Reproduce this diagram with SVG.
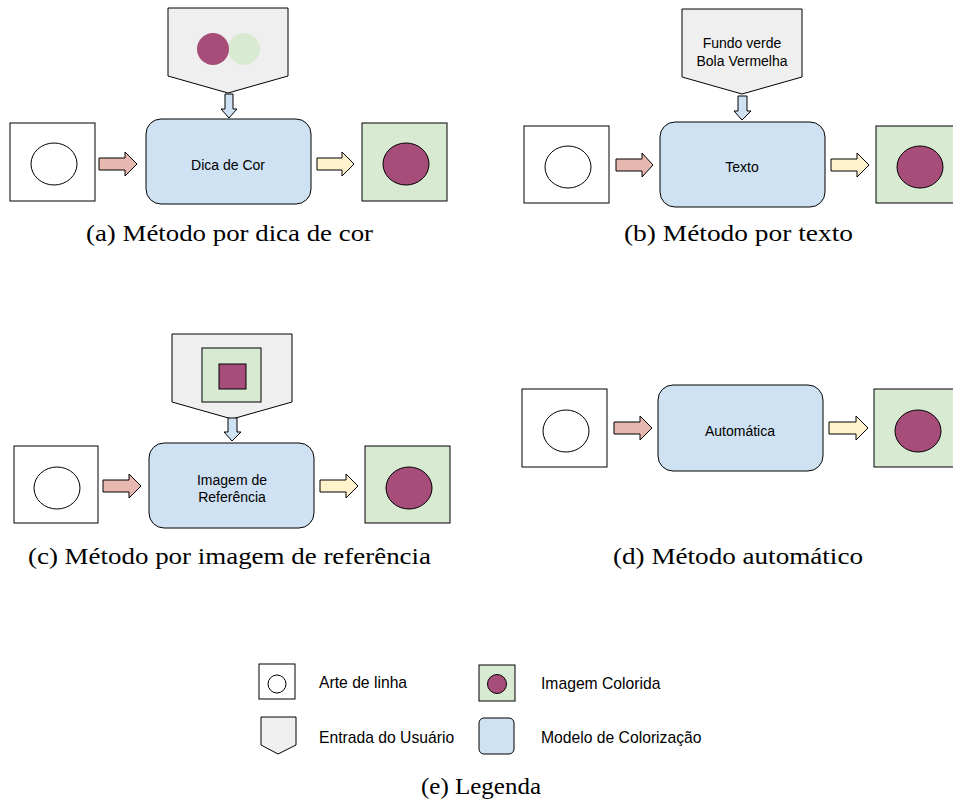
<svg xmlns="http://www.w3.org/2000/svg" width="953" height="804" viewBox="0 0 953 804">
<style>
.line{fill:#ffffff;stroke:#000;stroke-width:1}
.col{fill:#d9ead3;stroke:#000;stroke-width:1}
.dot{fill:#a64d79;stroke:#000;stroke-width:1}
.model{fill:#cfe2f3;stroke:#000;stroke-width:1}
.user{fill:#efefef;stroke:#000;stroke-width:1}
.ra{fill:#e6b8af;stroke:#000;stroke-width:1}
.ya{fill:#fff2cc;stroke:#000;stroke-width:1}
.da{fill:#cfe2f3;stroke:#000;stroke-width:1}
.lbl{font-family:"Liberation Sans",Arial,sans-serif;font-size:14px;fill:#000;text-anchor:middle}
.leg{font-family:"Liberation Sans",Arial,sans-serif;font-size:15.7px;fill:#000}
.cap{font-family:"Liberation Serif","Times New Roman",serif;font-size:24px;fill:#000}
</style>
<rect width="953" height="804" fill="#ffffff"/>

<!-- Panel (a) -->
<g id="a-input">
<polygon class="user" points="168,8 288,8 288,76 228,93 168,76"/>
<circle cx="244" cy="49" r="16" fill="#d9ead3"/>
<circle cx="213" cy="49" r="16" fill="#a64d79"/>
</g>
<g id="a-lineart"><rect class="line" x="10" y="123" width="85" height="78"/><ellipse class="line" cx="54" cy="164" rx="23" ry="21"/></g>
<g id="a-model"><rect class="model" x="146" y="119" width="165" height="85" rx="15"/><text class="lbl" x="228" y="170">Dica de Cor</text></g>
<g id="a-output"><rect class="col" x="362" y="123" width="85" height="78"/><ellipse class="dot" cx="406" cy="164" rx="23" ry="21"/></g>

<!-- Panel (b) -->
<g id="b-input">
<polygon class="user" points="682,9 802,9 802,77 742,94 682,77"/>
<text class="lbl" x="742" y="48">Fundo verde</text>
<text class="lbl" x="742" y="66">Bola Vermelha</text>
</g>
<g id="b-lineart"><rect class="line" x="524" y="126" width="85" height="77"/><ellipse class="line" cx="568" cy="167" rx="23" ry="21"/></g>
<g id="b-model"><rect class="model" x="660" y="122" width="165" height="85" rx="15"/><text class="lbl" x="742" y="172">Texto</text></g>
<g id="b-output"><rect class="col" x="876" y="126" width="85" height="77"/><ellipse class="dot" cx="920" cy="167" rx="23" ry="21"/></g>

<!-- Panel (c) -->
<g id="c-input">
<polygon class="user" points="172,334 292,334 292,402 232,419 172,402"/>
<rect class="col" x="202" y="348" width="59" height="54"/>
<rect class="dot" x="219" y="364" width="27" height="25"/>
</g>
<g id="c-lineart"><rect class="line" x="14" y="446" width="84" height="77"/><ellipse class="line" cx="57" cy="488" rx="23" ry="21"/></g>
<g id="c-model"><rect class="model" x="149" y="443" width="165" height="85" rx="15"/><text class="lbl" x="232" y="485">Imagem de</text><text class="lbl" x="232" y="502">Referência</text></g>
<g id="c-output"><rect class="col" x="365" y="446" width="85" height="77"/><ellipse class="dot" cx="409" cy="488" rx="23" ry="21"/></g>

<!-- Panel (d) -->
<g id="d-lineart"><rect class="line" x="522" y="389" width="85" height="78"/><ellipse class="line" cx="566" cy="431" rx="23" ry="21"/></g>
<g id="d-model"><rect class="model" x="658" y="385" width="165" height="86" rx="15"/><text class="lbl" x="740" y="436">Automática</text></g>
<g id="d-output"><rect class="col" x="874" y="389" width="85" height="78"/><ellipse class="dot" cx="918" cy="431" rx="23" ry="21"/></g>

<!-- Connectors -->
<g id="connectors">
<polygon class="da" points="225,94 233,94 233,109 237,109 229,118 221,109 225,109"/>
<polygon class="ra" points="99,158 125,158 125,152 137,164 125,176 125,170 99,170"/>
<polygon class="ya" points="317,158 342,158 342,152 354,164 342,176 342,170 317,170"/>

<polygon class="da" points="738,96 747,96 747,111 751,111 742,120 734,111 738,111"/>
<polygon class="ra" points="616,159 642,159 642,153 653,165 642,177 642,171 616,171"/>
<polygon class="ya" points="831,159 857,159 857,153 869,165 857,177 857,171 831,171"/>

<polygon class="da" points="228,418 237,418 237,432 241,432 232,441 224,432 228,432"/>
<polygon class="ra" points="103,480 129,480 129,474 141,486 129,498 129,492 103,492"/>
<polygon class="ya" points="320,480 346,480 346,474 358,486 346,498 346,492 320,492"/>

<polygon class="ra" points="614,422 640,422 640,416 652,428 640,440 640,434 614,434"/>
<polygon class="ya" points="829,422 856,422 856,416 868,428 856,440 856,434 829,434"/>
</g>

<!-- Captions -->
<g id="captions">
<text class="cap" x="86" y="241" textLength="287" lengthAdjust="spacingAndGlyphs">(a) Método por dica de cor</text>
<text class="cap" x="624" y="241" textLength="229" lengthAdjust="spacingAndGlyphs">(b) Método por texto</text>
<text class="cap" x="28" y="564" textLength="403" lengthAdjust="spacingAndGlyphs">(c) Método por imagem de referência</text>
<text class="cap" x="613" y="564" textLength="250" lengthAdjust="spacingAndGlyphs">(d) Método automático</text>
<text class="cap" x="421" y="794" textLength="120" lengthAdjust="spacingAndGlyphs">(e) Legenda</text>
</g>

<!-- Legend -->
<g id="legend-lineart"><rect class="line" x="259" y="664" width="36" height="35"/><circle class="line" cx="277" cy="684" r="9"/><text class="leg" x="319" y="688">Arte de linha</text></g>
<g id="legend-input"><polygon class="user" points="261,717 296,717 296,745 278,754 261,745"/><text class="leg" x="319" y="743">Entrada do Usuário</text></g>
<g id="legend-output"><rect class="col" x="479" y="665" width="36" height="36"/><circle class="dot" cx="497" cy="684" r="9.5"/><text class="leg" x="541" y="689">Imagem Colorida</text></g>
<g id="legend-model"><rect class="model" x="479" y="718" width="35" height="36" rx="5"/><text class="leg" x="541" y="743">Modelo de Colorização</text></g>
</svg>
